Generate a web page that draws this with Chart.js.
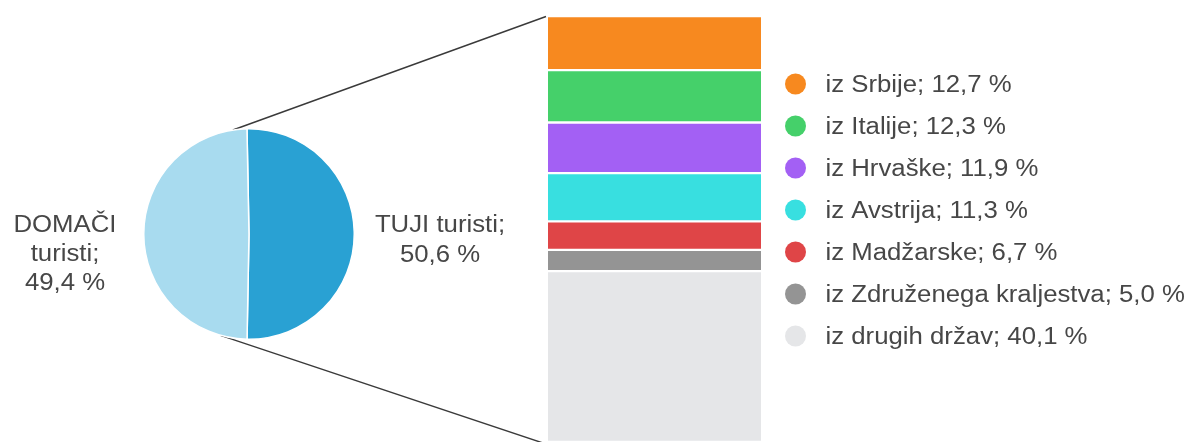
<!DOCTYPE html>
<html><head><meta charset="utf-8">
<script src="https://cdn.jsdelivr.net/npm/chart.js@4"></script>
<style>
html,body{margin:0;padding:0;background:#fff;overflow:hidden}
#wrap{position:relative;width:1193px;height:442px}
#wrap canvas{position:absolute;left:0;top:0}
</style></head><body>
<div id="wrap"><canvas id="bar" width="1193" height="442"></canvas><canvas id="pie" width="1193" height="442"></canvas></div>
<script>
const pieLabels = ['TUJI turisti', 'DOMAČI turisti'];
const pieValues = [50.6, 49.4];
const pieColors = ['#29a1d3', '#a8dbef'];

const countryLabels = ['iz Srbije', 'iz Italije', 'iz Hrvaške', 'iz Avstrija', 'iz Madžarske', 'iz Združenega kraljestva', 'iz drugih držav'];
const countryValues = [12.7, 12.3, 11.9, 11.3, 6.7, 5.0, 40.1];
const countryColors = ['#f7891f', '#45d06a', '#a360f4', '#38dfe0', '#df4547', '#949494', '#e5e6e8'];

const FONT = '23px "Liberation Sans", Arial, Helvetica, sans-serif';
const TEXT_COLOR = '#474747';
const SX = 1.12;
const fmt = v => v.toFixed(1).replace('.', ',') + ' %';

function drawText(ctx, text, x, y, align) {
  ctx.save();
  ctx.translate(x, y);
  ctx.scale(SX, 1);
  ctx.font = FONT;
  ctx.fillStyle = TEXT_COLOR;
  ctx.textAlign = align;
  ctx.textBaseline = 'alphabetic';
  ctx.fillText(text, 0, 0);
  ctx.restore();
}

const pieLabelPlugin = {
  id: 'pieLabels',
  afterDraw(chart) {
    const ctx = chart.ctx;
    const arc = chart.getDatasetMeta(0).data[0];
    const cx = arc.x, cy = arc.y;
    const left = [pieLabels[1].split(' ')[0], pieLabels[1].split(' ')[1] + ';', fmt(pieValues[1])];
    const lb = [-2.3, 26.5, 56];
    left.forEach((t, i) => drawText(ctx, t, cx - 184, cy + lb[i], 'center'));
    const right = [pieLabels[0] + ';', fmt(pieValues[0])];
    const rb = [-2.3, 27.7];
    right.forEach((t, i) => drawText(ctx, t, cx + 191, cy + rb[i], 'center'));
  }
};

const pieChart = new Chart(document.getElementById('pie'), {
  type: 'pie',
  data: {
    labels: pieLabels,
    datasets: [{ data: pieValues, backgroundColor: pieColors, borderColor: '#ffffff', borderWidth: 1.5 }]
  },
  options: {
    responsive: false,
    animation: false,
    rotation: -1.1,
    layout: { padding: { left: 143, right: 838, top: 128, bottom: 102 } },
    plugins: { legend: { display: false }, tooltip: { enabled: false } }
  },
  plugins: [pieLabelPlugin]
});

const barExtrasPlugin = {
  id: 'barExtras',
  afterDraw(chart) {
    const ctx = chart.ctx;
    const area = chart.chartArea;
    const arc = pieChart.getDatasetMeta(0).data[0];
    const cx = arc.x, cy = arc.y, r = arc.outerRadius;
    const first = chart.getDatasetMeta(0).data[0].getProps(['x', 'y', 'base', 'width'], true);
    const last = chart.getDatasetMeta(countryValues.length - 1).data[0].getProps(['x', 'y', 'base', 'width'], true);
    const a1 = -98.8 * Math.PI / 180, a2 = 105.7 * Math.PI / 180;
    ctx.save();
    ctx.strokeStyle = '#3a3a3a';
    ctx.lineWidth = 1.4;
    ctx.beginPath();
    ctx.moveTo(cx + r * Math.cos(a1), cy + r * Math.sin(a1));
    ctx.lineTo(first.x - first.width / 2 - 2, first.base + 0.5);
    ctx.moveTo(cx + r * Math.cos(a2), cy + r * Math.sin(a2));
    ctx.lineTo(last.x - last.width / 2 - 2, last.y + 2);
    ctx.stroke();
    ctx.restore();
    countryLabels.forEach((lab, i) => {
      const y = area.top + 68 + 42 * i;
      ctx.save();
      ctx.fillStyle = countryColors[i];
      ctx.beginPath();
      ctx.arc(area.right + 34.5, y, 10.5, 0, Math.PI * 2);
      ctx.fill();
      ctx.restore();
      drawText(ctx, lab + '; ' + fmt(countryValues[i]), area.right + 64.5, y + 8.2, 'left');
    });
  }
};

const barChart = new Chart(document.getElementById('bar'), {
  type: 'bar',
  data: {
    labels: ['TUJI turisti'],
    datasets: countryLabels.map((lab, i) => ({
      label: lab,
      data: [countryValues[i]],
      backgroundColor: countryColors[i],
      borderColor: '#ffffff',
      borderWidth: { top: 1.5, bottom: 1.5, left: 0, right: 0 },
      borderSkipped: false,
      barPercentage: 1,
      categoryPercentage: 1
    }))
  },
  options: {
    responsive: false,
    animation: false,
    layout: { padding: { left: 548, right: 432, top: 16, bottom: 0 } },
    scales: {
      x: { stacked: true, display: false },
      y: { stacked: true, display: false, reverse: true, min: 0, max: 100 }
    },
    plugins: { legend: { display: false }, tooltip: { enabled: false } }
  },
  plugins: [barExtrasPlugin]
});
</script>
</body></html>
